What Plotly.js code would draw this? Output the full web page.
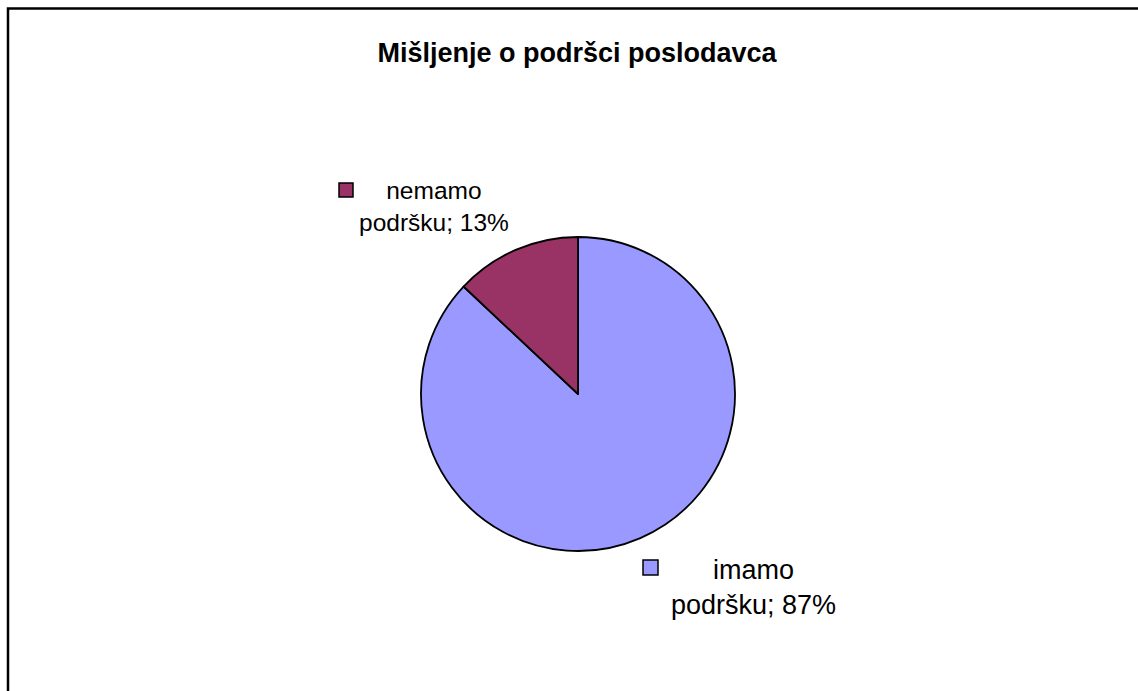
<!DOCTYPE html>
<html>
<head>
<meta charset="utf-8">
<script src="https://cdn.plot.ly/plotly-3.0.1.min.js"></script>
<style>html,body{margin:0;padding:0;background:#fff;}#chart{width:1138px;height:691px;}</style>
</head>
<body>
<div id="chart"></div>
<script>
// Data
const categories = ['imamo podršku', 'nemamo podršku'];
const values = [87, 13];
const colors = ['#9999FF', '#993366'];
const chartTitle = 'Mišljenje o podršci poslodavca';

const W = 1138, H = 691;
const total = values.reduce((a, b) => a + b, 0);
const labelText = categories.map((c, i) => {
  const parts = c.split(' ');
  return parts[0] + '<br>' + parts.slice(1).join(' ') + '; ' + Math.round(values[i] / total * 100) + '%';
});

// label placement (decoration, px)
const labelPos = [
  {x: 753, y: 587, size: 27, sq: [643, 560, 658, 575]},
  {x: 434, y: 206, size: 24.5, sq: [339, 183, 353, 197]}
];
const px = x => x / W, py = y => 1 - y / H;

const annotations = labelPos.map((p, i) => ({
  xref: 'paper', yref: 'paper', x: px(p.x), y: py(p.y),
  xanchor: 'center', yanchor: 'middle', showarrow: false,
  text: labelText[i], align: 'center',
  font: {family: 'Liberation Sans, Arial, sans-serif', size: p.size, color: '#000'}
}));

const shapes = labelPos.map((p, i) => ({
  type: 'rect', xref: 'paper', yref: 'paper',
  x0: px(p.sq[0]), x1: px(p.sq[2]), y0: py(p.sq[3]), y1: py(p.sq[1]),
  fillcolor: colors[i], line: {color: '#000', width: 1.5}
}));
// outer frame (cut at right/bottom like the reference)
shapes.push({type: 'rect', xref: 'paper', yref: 'paper',
  x0: px(8), x1: px(W + 20), y0: py(H + 20), y1: py(8.5),
  line: {color: '#000', width: 2.5}, fillcolor: 'rgba(0,0,0,0)'});

const cx = 578, cy = 394, r = 157;
const trace = {
  type: 'pie',
  labels: categories,
  values: values,
  sort: false,
  direction: 'clockwise',
  rotation: 0,
  marker: {colors: colors, line: {color: '#000', width: 1.8}},
  textinfo: 'none',
  hoverinfo: 'label+percent',
  showlegend: false,
  domain: {x: [px(cx - r), px(cx + r)], y: [py(cy + r), py(cy - r)]}
};

const layout = {
  width: W, height: H,
  margin: {l: 0, r: 0, t: 0, b: 0},
  paper_bgcolor: '#fff', plot_bgcolor: '#fff',
  title: {
    text: '<b>' + chartTitle + '</b>',
    x: px(577), xanchor: 'center', xref: 'paper',
    y: py(53), yanchor: 'middle', yref: 'paper',
    font: {family: 'Liberation Sans, Arial, sans-serif', size: 27, color: '#000'}
  },
  showlegend: false,
  annotations: annotations,
  shapes: shapes
};

Plotly.newPlot('chart', [trace], layout, {displayModeBar: false, staticPlot: true});
</script>
</body>
</html>
